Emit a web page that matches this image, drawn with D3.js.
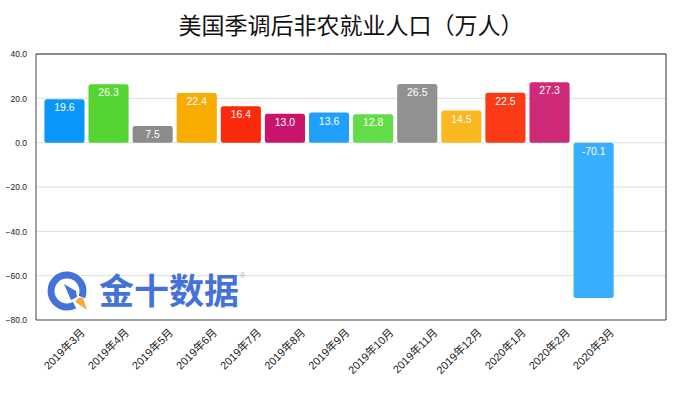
<!DOCTYPE html>
<html>
<head>
<meta charset="utf-8">
<script src="https://cdn.jsdelivr.net/npm/d3@7"></script>
<style>
  html, body { margin: 0; padding: 0; background: #fff; }
  text { font-family: "Liberation Sans", "Noto Sans CJK SC", sans-serif; }
</style>
</head>
<body>
<svg width="688" height="394"></svg>
<script>
var months = ["2019年3月", "2019年4月", "2019年5月", "2019年6月", "2019年7月", "2019年8月", "2019年9月",
  "2019年10月", "2019年11月", "2019年12月", "2020年1月", "2020年2月", "2020年3月"];
var payrolls = [19.6, 26.3, 7.5, 22.4, 16.4, 13.0, 13.6, 12.8, 26.5, 14.5, 22.5, 27.3, -70.1];
var barColors = ["#0a96fb", "#55d432", "#8c8c8c", "#f8ab00", "#fb2a0a", "#c9146b", "#1fa0fb",
  "#62dc48", "#919191", "#f8b81e", "#fb3a18", "#cf2a78", "#38aeff"];
var yTicks = [40, 20, 0, -20, -40, -60, -80];

var svg = d3.select("svg");
var plot = {left: 36, right: 666, top: 54, bottom: 320};

// y axis goes from -80 to 40, the frame is drawn on top afterwards
var y = d3.scaleLinear().domain([-80, 40]).range([plot.bottom, plot.top]);

// bars dont fill the whole width, there is an empty slot right of 2020年3月
var x = d3.scaleBand().domain(months).range([42.4, 615.7]).paddingInner(0.09).paddingOuter(0.045);

// gridlines
svg.append("g").selectAll("line")
  .data(yTicks.filter(function(d) { return d != 40 && d != -80; }))
  .enter().append("line")
    .attr("x1", plot.left)
    .attr("x2", plot.right)
    .attr("y1", function(d) { return y(d); })
    .attr("y2", function(d) { return y(d); })
    .attr("stroke", "#dcdfdf")
    .attr("stroke-width", 1);

// y axis labels
var yAxis = svg.append("g")
  .attr("transform", "translate(" + plot.left + ",0)")
  .call(d3.axisLeft(y).tickValues(yTicks).tickSize(0).tickPadding(9).tickFormat(d3.format(".1f")));
yAxis.select(".domain").remove();
yAxis.selectAll("text").attr("font-size", 8.5).attr("fill", "#222");

// bars
var bar = svg.append("g").selectAll("g")
  .data(payrolls)
  .enter().append("g");

bar.append("rect")
  .attr("x", function(d, i) { return x(months[i]); })
  .attr("y", function(d) { return y(Math.max(d, 0)); })
  .attr("width", x.bandwidth())
  .attr("height", function(d) { return Math.abs(y(d) - y(0)); })
  .attr("rx", 2.5)
  .attr("fill", function(d, i) { return barColors[i]; });

// value labels sit inside the bar, at the top for all of them
bar.append("text")
  .attr("x", function(d, i) { return x(months[i]) + x.bandwidth() / 2; })
  .attr("y", function(d) { return y(Math.max(d, 0)) + 12; })
  .attr("text-anchor", "middle")
  .attr("font-size", 10.5)
  .attr("fill", "#fff")
  .text(function(d) { return d.toFixed(1); });

// frame: top is grey and thicker
svg.append("line").attr("x1", plot.left).attr("x2", plot.right).attr("y1", plot.top).attr("y2", plot.top)
  .attr("stroke", "#8a8a8a").attr("stroke-width", 2);
svg.append("line").attr("x1", plot.left).attr("x2", plot.left).attr("y1", plot.top).attr("y2", plot.bottom)
  .attr("stroke", "#444").attr("stroke-width", 1);
svg.append("line").attr("x1", plot.right).attr("x2", plot.right).attr("y1", plot.top).attr("y2", plot.bottom)
  .attr("stroke", "#333").attr("stroke-width", 1);
svg.append("line").attr("x1", plot.left).attr("x2", plot.right).attr("y1", plot.bottom).attr("y2", plot.bottom)
  .attr("stroke", "#444").attr("stroke-width", 1);

// x axis labels, rotated 45deg and ending just right of the bar centre
var xAxis = svg.append("g")
  .attr("transform", "translate(0," + plot.bottom + ")")
  .call(d3.axisBottom(x).tickSize(0));
xAxis.select(".domain").remove();
xAxis.selectAll("text")
  .attr("font-size", 11)
  .attr("fill", "#222")
  .attr("text-anchor", "end")
  .attr("dy", 0)
  .attr("transform", "translate(19,11) rotate(-45)");

// title
svg.append("text")
  .attr("x", 351)
  .attr("y", 34)
  .attr("text-anchor", "middle")
  .attr("font-size", 23)
  .attr("fill", "#111")
  .text("美国季调后非农就业人口（万人）");

// watermark
var logo = svg.append("g");
logo.append("path")
  .attr("d", d3.arc()({innerRadius: 12.5, outerRadius: 19.5, startAngle: 2.65, endAngle: 2 * Math.PI + 1.95, cornerRadius: 2}))
  .attr("transform", "translate(67,291)")
  .attr("fill", "#4472d8");
logo.append("path").attr("d", "M64 284L76 291L77 297L71 300Z").attr("fill", "#4472d8");
logo.append("path").attr("d", "M75.5 302A5.5 5.5 0 0 1 83 298L87 310Z").attr("fill", "#f2ab3c");
logo.append("text")
  .attr("x", 99)
  .attr("y", 304)
  .attr("font-size", 35)
  .attr("font-weight", "bold")
  .attr("fill", "#4472d8")
  .text("金十数据");
logo.append("text")
  .attr("x", 240)
  .attr("y", 278)
  .attr("font-size", 7)
  .attr("fill", "#9fb0d8")
  .text("®");
</script>
</body>
</html>
